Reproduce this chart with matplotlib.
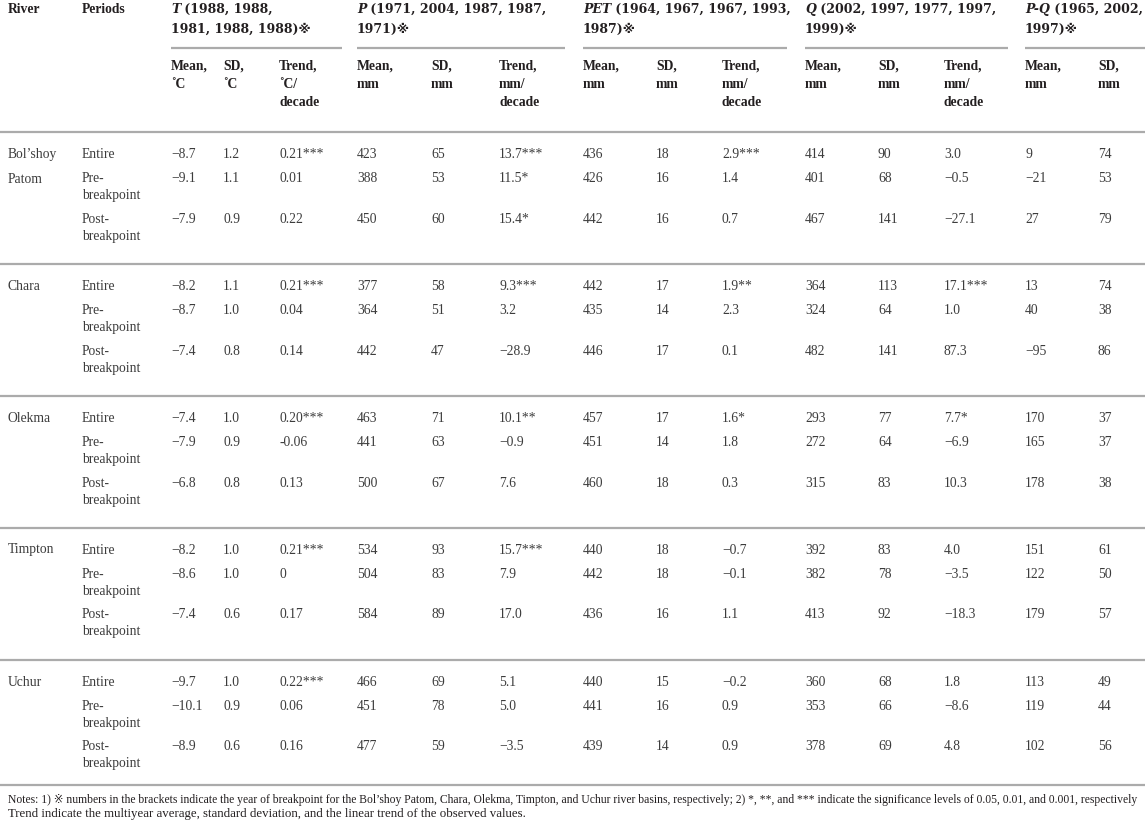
import matplotlib
matplotlib.use("Agg")
import matplotlib.pyplot as plt

# ---------------- data ----------------
rivers = ["Bol\u2019shoy\nPatom", "Chara", "Olekma", "Timpton", "Uchur"]
periods = ["Entire", "Pre-\nbreakpoint", "Post-\nbreakpoint"]

group_vars = ["T", "P", "PET", "Q", "P-Q"]
group_years = [
    [" (1988, 1988,", "1981, 1988, 1988)\u203b"],
    [" (1971, 2004, 1987, 1987,", "1971)\u203b"],
    [" (1964, 1967, 1967, 1993,", "1987)\u203b"],
    [" (2002, 1997, 1977, 1997,", "1999)\u203b"],
    [" (1965, 2002, 1997, 1997,", "1997)\u203b"],
]
sub_headers = [
    ["Mean,\n\u02daC", "SD,\n\u02daC", "Trend,\n\u02daC/\ndecade"],
    ["Mean,\nmm", "SD,\nmm", "Trend,\nmm/\ndecade"],
    ["Mean,\nmm", "SD,\nmm", "Trend,\nmm/\ndecade"],
    ["Mean,\nmm", "SD,\nmm", "Trend,\nmm/\ndecade"],
    ["Mean,\nmm", "SD,\nmm"],
]

M = "\u2212"
T_mean = [M+"8.7", M+"9.1", M+"7.9", M+"8.2", M+"8.7", M+"7.4", M+"7.4", M+"7.9", M+"6.8",
          M+"8.2", M+"8.6", M+"7.4", M+"9.7", M+"10.1", M+"8.9"]
T_sd = ["1.2", "1.1", "0.9", "1.1", "1.0", "0.8", "1.0", "0.9", "0.8", "1.0", "1.0", "0.6", "1.0", "0.9", "0.6"]
T_trend = ["0.21***", "0.01", "0.22", "0.21***", "0.04", "0.14", "0.20***", "-0.06", "0.13",
           "0.21***", "0", "0.17", "0.22***", "0.06", "0.16"]
P_mean = ["423", "388", "450", "377", "364", "442", "463", "441", "500", "534", "504", "584", "466", "451", "477"]
P_sd = ["65", "53", "60", "58", "51", "47", "71", "63", "67", "93", "83", "89", "69", "78", "59"]
P_trend = ["13.7***", "11.5*", "15.4*", "9.3***", "3.2", M+"28.9", "10.1**", M+"0.9", "7.6",
           "15.7***", "7.9", "17.0", "5.1", "5.0", M+"3.5"]
PET_mean = ["436", "426", "442", "442", "435", "446", "457", "451", "460", "440", "442", "436", "440", "441", "439"]
PET_sd = ["18", "16", "16", "17", "14", "17", "17", "14", "18", "18", "18", "16", "15", "16", "14"]
PET_trend = ["2.9***", "1.4", "0.7", "1.9**", "2.3", "0.1", "1.6*", "1.8", "0.3",
             M+"0.7", M+"0.1", "1.1", M+"0.2", "0.9", "0.9"]
Q_mean = ["414", "401", "467", "364", "324", "482", "293", "272", "315", "392", "382", "413", "360", "353", "378"]
Q_sd = ["90", "68", "141", "113", "64", "141", "77", "64", "83", "83", "78", "92", "68", "66", "69"]
Q_trend = ["3.0", M+"0.5", M+"27.1", "17.1***", "1.0", "87.3", "7.7*", M+"6.9", "10.3",
           "4.0", M+"3.5", M+"18.3", "1.8", M+"8.6", "4.8"]
PQ_mean = ["9", M+"21", "27", "13", "40", M+"95", "170", "165", "178", "151", "122", "179", "113", "119", "102"]
PQ_sd = ["74", "53", "79", "74", "38", "86", "37", "37", "38", "61", "50", "57", "49", "44", "56"]

columns = [T_mean, T_sd, T_trend, P_mean, P_sd, P_trend, PET_mean, PET_sd, PET_trend,
           Q_mean, Q_sd, Q_trend, PQ_mean, PQ_sd]

notes = ["Notes: 1) \u203b numbers in the brackets indicate the year of breakpoint for the Bol\u2019shoy Patom, Chara, Olekma, Timpton, and Uchur river basins, respectively; 2) *, **, and *** indicate the significance levels of 0.05, 0.01, and 0.001, respectively",
         "Trend indicate the multiyear average, standard deviation, and the linear trend of the observed values."]

# ---------------- layout ----------------
W, H = 1145, 823
col_x = [171, 223, 279, 357, 431, 499, 583, 656, 722, 805, 878, 944, 1025, 1098]
group_x0 = [171, 357, 583, 805, 1025]
group_x1 = [342, 565, 787, 1008, 1145]
x_river, x_period = 8, 82
header_line_y = 132
block_h = 132
row_off = [22, 46, 87]
line2_dy = 17
bottom_line_y = 785

FAM = ["Liberation Serif", "DejaVu Serif", "DejaVu Sans"]
HFAM = ["DejaVu Serif", "DejaVu Sans"]
FS = 9.8
HFS = 9.0
TXT = "#231f20"
DAT = "#3c3c3c"
LINE = "#ababab"

plt.rcParams["font.family"] = FAM

fig = plt.figure(figsize=(W / 100, H / 100), dpi=100)
ax = fig.add_axes([0, 0, 1, 1])
ax.set_xlim(0, W)
ax.set_ylim(H, 0)
ax.axis("off")

def txt(x, y, s, **kw):
    kw.setdefault("fontsize", FS)
    kw.setdefault("color", TXT)
    kw.setdefault("va", "center")
    kw.setdefault("ha", "left")
    return ax.text(x, y, s, **kw)

# header row 1
txt(x_river, 9, "River", weight="bold")
txt(x_period, 9, "Periods", weight="bold")
for gx, var, yrs in zip(group_x0, group_vars, group_years):
    t = txt(gx, 9, var, style="italic", weight="bold", family=HFAM, fontsize=HFS)
    ax.annotate(yrs[0], xy=(1, 0.5), xycoords=t, va="center", ha="left",
                fontsize=HFS, color=TXT, weight="bold", family=HFAM)
    txt(gx, 9 + 20, yrs[1], weight="bold", family=HFAM, fontsize=HFS)

for x0, x1 in zip(group_x0, group_x1):
    ax.plot([x0, x1], [48, 48], color=LINE, lw=1.6, solid_capstyle="butt")

# header row 2
xi = 0
for subs in sub_headers:
    for s in subs:
        for k, part in enumerate(s.split("\n")):
            txt(col_x[xi], 66 + k * 18, part, weight="bold")
        xi += 1

ax.plot([0, W], [header_line_y, header_line_y], color=LINE, lw=1.6)

# body
for bi, river in enumerate(rivers):
    y0 = header_line_y + bi * block_h
    for k, part in enumerate(river.split("\n")):
        txt(x_river, y0 + row_off[0] + k * 25, part, color=DAT)
    for pi, per in enumerate(periods):
        yy = y0 + row_off[pi]
        for k, part in enumerate(per.split("\n")):
            txt(x_period, yy + k * line2_dy, part, color=DAT)
        ri = bi * 3 + pi
        for cx, col in zip(col_x, columns):
            txt(cx, yy, col[ri], color=DAT)
    if bi < len(rivers) - 1:
        ax.plot([0, W], [y0 + block_h, y0 + block_h], color=LINE, lw=1.6)
ax.plot([0, W], [bottom_line_y, bottom_line_y], color=LINE, lw=1.6)

# notes
txt(8, bottom_line_y + 15, notes[0], fontsize=8.4, color=TXT)
txt(8, bottom_line_y + 29, notes[1], fontsize=9.3, color=TXT)

fig.savefig("out.png", dpi=100)
